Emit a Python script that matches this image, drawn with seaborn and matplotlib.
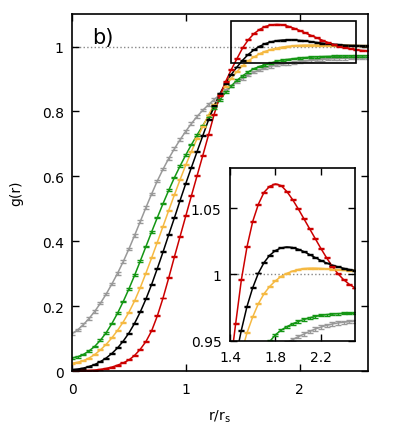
import numpy as np
import pandas as pd
import matplotlib
matplotlib.use('Agg')
import matplotlib.pyplot as plt
from matplotlib.patches import Rectangle
from matplotlib.ticker import FormatStrFormatter
import seaborn as sns

# sampling grid r/r_s
r = np.round(np.linspace(0, 2.6, 53), 2)

g_gray = [0.115, 0.127, 0.143, 0.162, 0.184, 0.209, 0.237, 0.268, 0.301, 0.337,
          0.376, 0.418, 0.461, 0.504, 0.546, 0.586, 0.622, 0.655, 0.685, 0.713,
          0.739, 0.763, 0.785, 0.804, 0.821, 0.837, 0.852, 0.866, 0.879, 0.891,
          0.902, 0.912, 0.921, 0.928, 0.934, 0.939, 0.943, 0.946, 0.9485, 0.9508,
          0.9530, 0.9550, 0.9570, 0.9588, 0.9603, 0.9616, 0.9626, 0.9634, 0.9640,
          0.9644, 0.9647, 0.9649, 0.9650]
g_green = [0.040, 0.044, 0.051, 0.062, 0.076, 0.095, 0.118, 0.146, 0.178, 0.214,
           0.253, 0.295, 0.339, 0.384, 0.429, 0.473, 0.516, 0.557, 0.596, 0.632,
           0.666, 0.698, 0.728, 0.757, 0.785, 0.811, 0.836, 0.859, 0.879, 0.896,
           0.910, 0.922, 0.932, 0.939, 0.944, 0.9495, 0.9545, 0.9580, 0.9606, 0.9627,
           0.9645, 0.9660, 0.9673, 0.9683, 0.9691, 0.9697, 0.9701, 0.9704, 0.9706,
           0.9707, 0.9708, 0.9709, 0.9710]
g_orange = [0.024, 0.027, 0.032, 0.040, 0.051, 0.065, 0.082, 0.102, 0.125, 0.151,
            0.181, 0.216, 0.257, 0.302, 0.349, 0.397, 0.446, 0.495, 0.543, 0.590,
            0.635, 0.677, 0.717, 0.754, 0.789, 0.821, 0.851, 0.878, 0.902, 0.923,
            0.941, 0.956, 0.968, 0.978, 0.9855, 0.9910, 0.9952, 0.9985, 1.0008, 1.0025,
            1.0037, 1.0044, 1.0047, 1.0047, 1.0045, 1.0042, 1.0039, 1.0036, 1.0033,
            1.0030, 1.0027, 1.0024, 1.0021]
g_black = [0.004, 0.006, 0.009, 0.014, 0.020, 0.029, 0.040, 0.054, 0.071, 0.092,
           0.117, 0.147, 0.182, 0.222, 0.267, 0.316, 0.367, 0.420, 0.472, 0.526,
           0.578, 0.628, 0.677, 0.726, 0.774, 0.817, 0.855, 0.887, 0.914, 0.937,
           0.958, 0.976, 0.990, 1.0010, 1.0090, 1.0145, 1.0180, 1.0200, 1.0207, 1.0203,
           1.0190, 1.0172, 1.0150, 1.0127, 1.0105, 1.0086, 1.0070, 1.0057, 1.0046,
           1.0037, 1.0030, 1.0025, 1.0021]
g_red = [0.000, 0.000, 0.001, 0.002, 0.003, 0.005, 0.008, 0.012, 0.018, 0.025,
         0.034, 0.048, 0.067, 0.091, 0.124, 0.170, 0.225, 0.287, 0.352, 0.415,
         0.478, 0.541, 0.603, 0.665, 0.728, 0.792, 0.848, 0.892, 0.929, 0.963,
         0.996, 1.021, 1.040, 1.053, 1.062, 1.0665, 1.0682, 1.0670, 1.0625, 1.0565,
         1.0495, 1.0420, 1.0345, 1.0270, 1.0195, 1.0125, 1.0060, 1.0005, 0.9960,
         0.9925, 0.9898, 0.9880, 0.9868]

series = ['gray', 'green', 'orange', 'black', 'red']
values = [g_gray, g_green, g_orange, g_black, g_red]
colors = {'gray': '#999999', 'green': '#149614', 'orange': '#f5b942',
          'black': '#000000', 'red': '#cc0000'}
# statistical errors (main plot / zoomed inset)
err_main = {'gray': 0.004, 'green': 0.0025, 'orange': 0.0015, 'black': 0.0015, 'red': 0.0015}
err_inset = {'gray': 0.0012, 'green': 0.0008, 'orange': 0.0003, 'black': 0.0003, 'red': 0.0003}

df = pd.DataFrame({'r': np.tile(r, len(series)),
                   'g': np.concatenate(values),
                   'set': np.repeat(series, len(r))})

sns.set_theme(style='ticks')
plt.rcParams['font.family'] = ['DejaVu Sans']
plt.rcParams['axes.edgecolor'] = 'black'
plt.rcParams['xtick.color'] = 'black'
plt.rcParams['ytick.color'] = 'black'
plt.rcParams['text.color'] = 'black'
plt.rcParams['axes.labelcolor'] = 'black'

fig = plt.figure(figsize=(3.95, 4.39), dpi=100)
ax = fig.add_axes([0.1823, 0.1526, 0.749, 0.813])
ins = fig.add_axes([0.5823, 0.2216, 0.3165, 0.3927])

for a, errs in ((ax, err_main), (ins, err_inset)):
    a.axhline(1, color='#888888', ls=':', lw=1, zorder=0)
    sns.lineplot(data=df, x='r', y='g', hue='set', hue_order=series, palette=colors,
                 lw=1.1, legend=False, ax=a, sort=False, estimator=None)
    for name in series:
        sub = df[df['set'] == name]
        a.errorbar(sub['r'], sub['g'], yerr=errs[name], fmt='none', ecolor=colors[name],
                   elinewidth=1, capsize=2, capthick=1)
    for s in a.spines.values():
        s.set_linewidth(1.2)
        s.set_color('black')

ax.add_patch(Rectangle((1.4, 0.95), 1.1, 0.13, fill=False, ec='black', lw=1.2, zorder=5))

ax.set_xlim(0, 2.6)
ax.set_ylim(0, 1.1)
ax.set_xticks([0, 1, 2])
ax.set_yticks([0, 0.2, 0.4, 0.6, 0.8, 1])
ax.yaxis.set_major_formatter(FormatStrFormatter('%g'))
ax.tick_params(direction='in', top=True, right=True, length=5, width=1, labelsize=10)
ax.tick_params(axis='x', pad=8)
ax.tick_params(axis='y', pad=6)
ax.set_xlabel(r'r/r$_\mathrm{s}$', fontsize=10, labelpad=8)
ax.set_ylabel('g(r)', fontsize=10, labelpad=13)
ax.text(0.067, 0.92, 'b)', transform=ax.transAxes, fontsize=15, va='baseline', ha='left')

ins.set_xlim(1.4, 2.5)
ins.set_ylim(0.95, 1.08)
ins.set_xticks([1.4, 1.8, 2.2])
ins.set_yticks([0.95, 1, 1.05])
ins.xaxis.set_major_formatter(FormatStrFormatter('%g'))
ins.yaxis.set_major_formatter(FormatStrFormatter('%g'))
ins.tick_params(direction='in', top=True, right=True, length=5, width=1, labelsize=10)
ins.tick_params(axis='x', pad=7)
ins.tick_params(axis='y', pad=6)
ins.set_xlabel('')
ins.set_ylabel('')

fig.savefig('out.png', dpi=100)
